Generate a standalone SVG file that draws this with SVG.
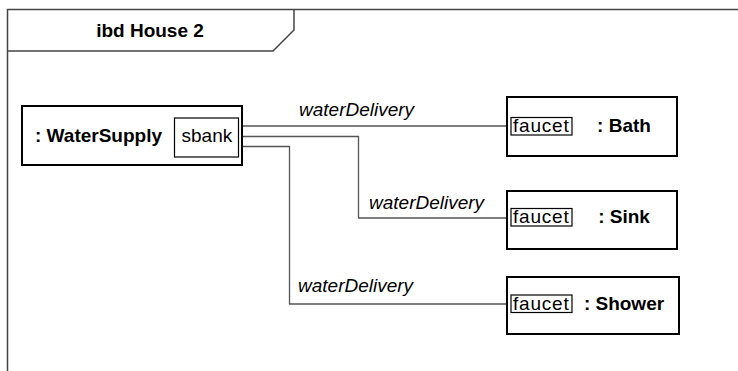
<svg xmlns="http://www.w3.org/2000/svg" width="738" height="371" viewBox="0 0 738 371">
<style>
text{font-family:"Liberation Sans",Arial,Helvetica,sans-serif;font-size:19px;fill:#000}
.b{font-weight:bold}
.i{font-style:italic}
.f{letter-spacing:0.8px}
.lbl{text-anchor:middle}
.part{fill:#fff;stroke:#000;stroke-width:2}
.port{fill:#fff;stroke:#000;stroke-width:1.2}
.frame{fill:none;stroke:#444;stroke-width:1.5}
.conn{fill:none;stroke:#555;stroke-width:1.3}
</style>
<rect width="738" height="371" fill="#fff"/>
<g id="frame">
<path class="frame" d="M7.5,371 V9.5 H738"/>
<path class="frame" d="M7.5,51 H273 L294,30 V9.5"/>
<text class="b" x="150" y="37" text-anchor="middle">ibd House 2</text>
</g>
<g id="connectors">
<path class="conn" d="M238,126 H511"/>
<path class="conn" d="M238,136.5 H358.5 V218 H511"/>
<path class="conn" d="M238,146.5 H289.5 V304 H511"/>
<text class="i" x="299" y="116">waterDelivery</text>
<text class="i" x="369" y="209">waterDelivery</text>
<text class="i" x="298" y="291.5">waterDelivery</text>
</g>
<g id="waterSupply">
<rect class="part" x="22" y="106" width="220" height="59"/>
<text class="b" x="35" y="142">: WaterSupply</text>
<rect class="port" x="174.5" y="118" width="64" height="39"/>
<text x="181.5" y="142">sbank</text>
</g>
<g id="bath">
<rect class="part" x="507" y="97" width="170" height="59"/>
<rect class="port" x="511" y="117.5" width="61" height="17.5"/>
<text class="f" x="513" y="132">faucet</text>
<text class="b lbl" x="624" y="132">: Bath</text>
</g>
<g id="sink">
<rect class="part" x="507" y="191" width="170" height="58"/>
<rect class="port" x="511" y="208.5" width="61" height="17.5"/>
<text class="f" x="513" y="223">faucet</text>
<text class="b lbl" x="624" y="223">: Sink</text>
</g>
<g id="shower">
<rect class="part" x="507" y="277" width="172" height="57"/>
<rect class="port" x="511" y="295" width="61" height="17.5"/>
<text class="f" x="513" y="309.5">faucet</text>
<text class="b lbl" x="624" y="309.5">: Shower</text>
</g>
</svg>
